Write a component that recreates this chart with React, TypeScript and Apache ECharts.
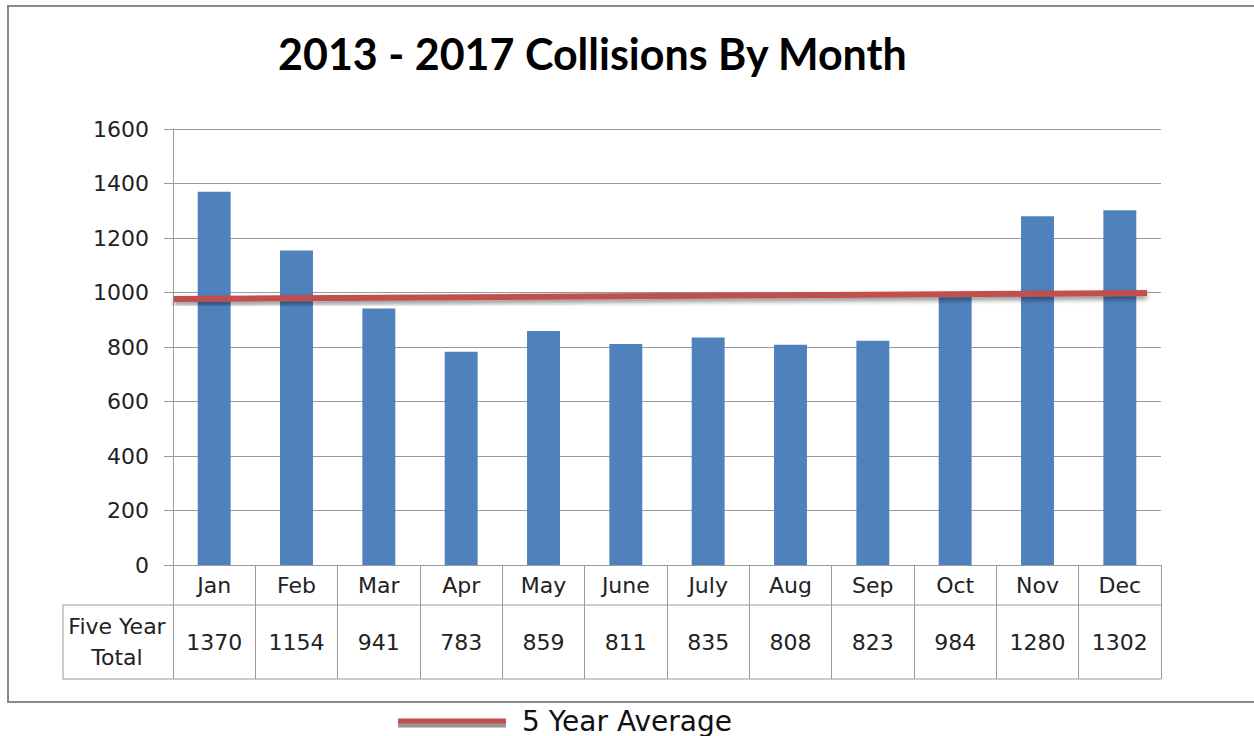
import React, { useEffect, useRef } from "react";
import * as echarts from "echarts";

const months = ["Jan", "Feb", "Mar", "Apr", "May", "June", "July", "Aug", "Sep", "Oct", "Nov", "Dec"];
const totals = [1370, 1154, 941, 783, 859, 811, 835, 808, 823, 984, 1280, 1302];
const trendX = [0.01, 11.83];
const trendY = [976, 998];
const yTicks = { min: 0, max: 1600, interval: 200 };
const titleText = "2013 - 2017 Collisions By Month";
const legendName = "5 Year Average";
const rowHeader = "Five Year\nTotal";

const labelFont = "'DejaVu Sans', sans-serif";
const lineGray = "#9a9a9a";

export default function App() {
  const ref = useRef<HTMLDivElement>(null);
  useEffect(() => {
    document.body.style.margin = "0";
    const chart = echarts.init(ref.current!, null, { renderer: "svg" });
    const gridLeft = 173, gridRight = 1161, gridTop = 129, gridBottom = 565;
    chart.setOption({
      animation: false,
      backgroundColor: "#ffffff",
      title: {
        text: titleText,
        left: 273,
        top: 27,
        textStyle: { fontFamily: "Lato, sans-serif", fontWeight: "bold", fontSize: 43, color: "#000" },
      },
      grid: { left: gridLeft, right: 1254 - gridRight, top: gridTop, bottom: 736 - gridBottom, containLabel: false },
      legend: {
        data: [{ name: legendName, icon: "rect" }],
        left: 398,
        top: 707,
        padding: 0,
        itemWidth: 108,
        itemHeight: 5,
        itemGap: 10,
        textStyle: { fontFamily: labelFont, fontSize: 28, color: "#111", padding: [0, 0, 0, 11] },
        itemStyle: { shadowColor: "rgba(150,150,150,1)", shadowBlur: 0, shadowOffsetY: 4 },
      },
      xAxis: [
        {
          type: "category",
          data: months,
          position: "bottom",
          axisLine: { show: true, lineStyle: { color: lineGray, width: 1 } },
          axisTick: { show: true, length: 114, lineStyle: { color: lineGray } },
          axisLabel: { margin: 9, fontFamily: labelFont, fontSize: 22, color: "#222" },
          splitLine: { show: false },
        },
        {
          type: "category",
          data: totals.map(String),
          position: "bottom",
          axisLine: { show: false },
          axisTick: { show: false },
          axisLabel: { margin: 66, fontFamily: labelFont, fontSize: 22, color: "#222" },
        },
        {
          type: "value",
          min: 0,
          max: 12,
          show: false,
        },
      ],
      yAxis: {
        type: "value",
        min: yTicks.min,
        max: yTicks.max,
        interval: yTicks.interval,
        axisLine: { show: true, lineStyle: { color: lineGray } },
        axisTick: { show: true, length: 9, lineStyle: { color: lineGray } },
        axisLabel: {
          margin: 24,
          fontFamily: labelFont,
          fontSize: 22,
          color: "#222",
          formatter: (v: number) => String(v),
        },
        splitLine: { show: true, lineStyle: { color: lineGray, width: 1 } },
      },
      series: [
        {
          type: "bar",
          data: totals,
          barWidth: "40%",
          itemStyle: { color: "#4F81BD" },
          xAxisIndex: 0,
        },
        {
          name: legendName,
          type: "line",
          xAxisIndex: 2,
          data: trendX.map((x, i) => [x, trendY[i]]),
          showSymbol: false,
          symbol: "none",
          itemStyle: { color: "#C0504D" },
          lineStyle: {
            color: "#C0504D",
            width: 6,
            shadowColor: "rgba(0,0,0,0.45)",
            shadowBlur: 5,
            shadowOffsetY: 3,
          },
          z: 5,
        },
      ],
      graphic: [
        {
          type: "rect",
          shape: { x: 8, y: 6, width: 1252, height: 696 },
          style: { fill: "none", stroke: "#8a8a8a", lineWidth: 2 },
          silent: true,
        },
        {
          type: "line",
          shape: { x1: 63, y1: 605, x2: gridRight, y2: 605 },
          style: { stroke: lineGray, lineWidth: 1 },
        },
        {
          type: "line",
          shape: { x1: 63, y1: 679, x2: gridRight, y2: 679 },
          style: { stroke: lineGray, lineWidth: 1 },
        },
        {
          type: "line",
          shape: { x1: 63, y1: 605, x2: 63, y2: 679 },
          style: { stroke: lineGray, lineWidth: 1 },
        },
        {
          type: "text",
          x: 117,
          y: 642,
          style: {
            text: rowHeader,
            fontFamily: labelFont,
            fontSize: 22,
            lineHeight: 31,
            fill: "#222",
            align: "center",
            verticalAlign: "middle",
          },
        },
      ],
    });
    return () => chart.dispose();
  }, []);
  return <div ref={ref} style={{ width: 1254, height: 736 }} />;
}
